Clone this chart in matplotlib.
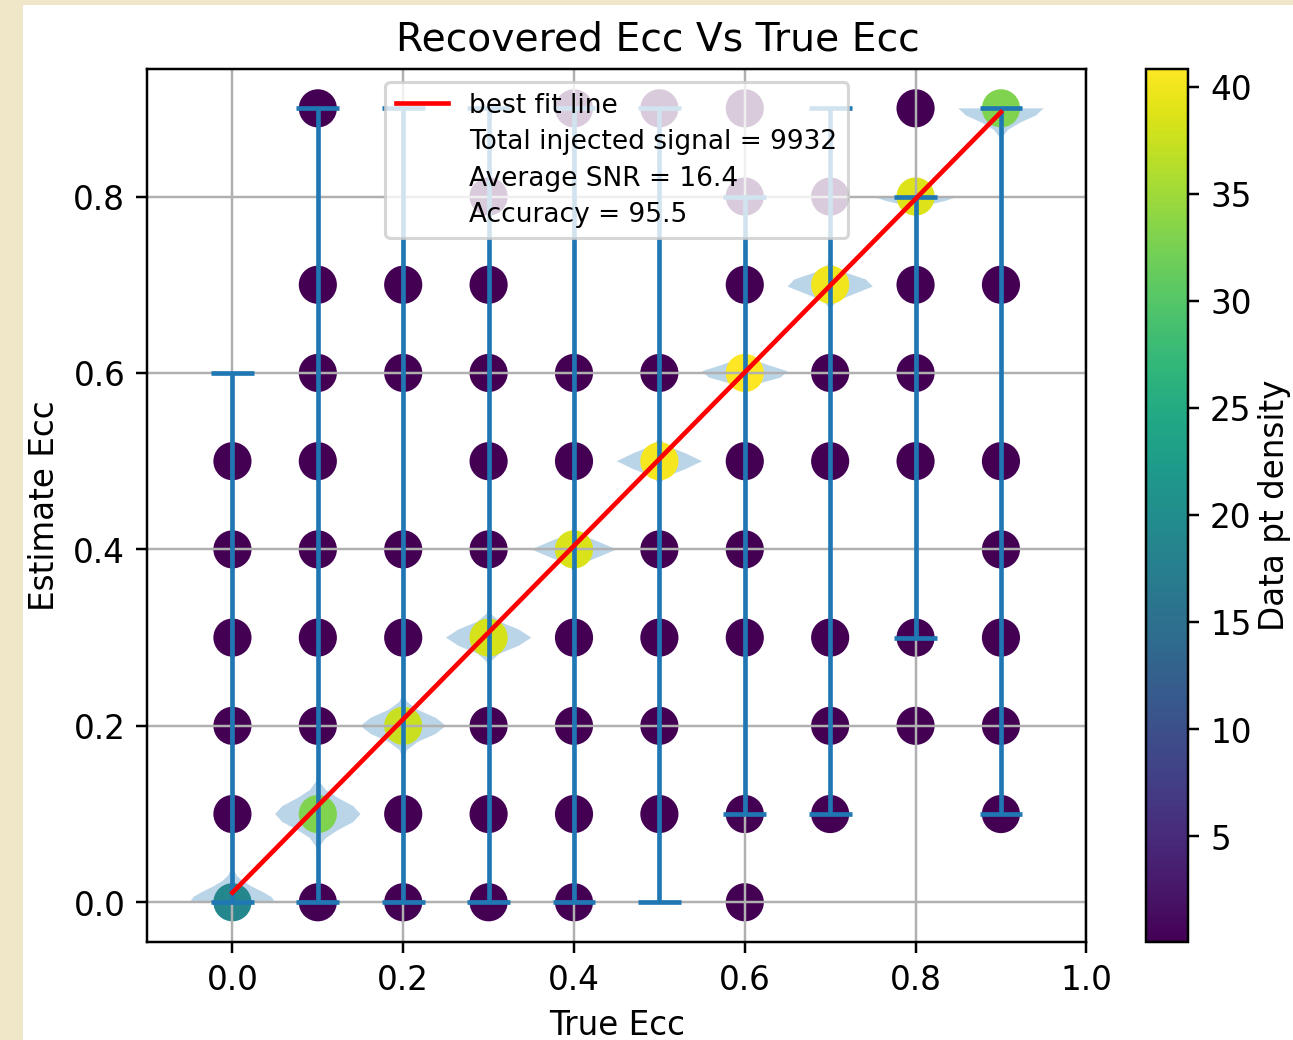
import matplotlib
matplotlib.use('Agg')
import matplotlib.pyplot as plt
from matplotlib.patches import Rectangle
import numpy as np

plt.rcParams['font.size'] = 10.55

# eccentricity grid used for both the injected and the recovered values
ecc_grid = np.round(np.arange(0.0, 1.0, 0.1), 1)

# point density per cell: rows = estimated ecc (0.0 .. 0.9), cols = true ecc (0.0 .. 0.9)
# 0 means no recovered point in that cell
p = 0.06
density = np.array([
    [19.0, p,    p,    p,    p,    0,    p,     0,    0,    0],
    [p,    33.0, p,    p,    p,    p,    p,     p,    0,    p],
    [p,    p,    37.5, p,    p,    p,    0,     p,    p,    p],
    [p,    p,    p,    38.3, p,    p,    p,     p,    p,    p],
    [p,    p,    p,    p,    38.5, p,    p,     0,    0,    p],
    [p,    p,    0,    p,    p,    40.3, p,     p,    p,    p],
    [0,    p,    p,    p,    p,    p,    40.85, p,    p,    0],
    [0,    p,    p,    p,    0,    0,    p,     40.0, p,    p],
    [0,    0,    0,    p,    0,    0,    p,     p,    38.7, 0],
    [0,    p,    0,    0,    p,    p,    p,     0,    p,    33.0],
])

fit_slope = 0.983
fit_intercept = 0.011
n_injected = 9932
avg_snr = 16.4
accuracy = 95.5

DPI = 223
W, H = 1293, 1040
fig = plt.figure(figsize=((W + 0.4) / DPI, (H + 0.4) / DPI), dpi=DPI)
fig.patch.set_facecolor('#efe7c8')
fig.add_artist(Rectangle((23 / W, 0), 1, 1035 / H, transform=fig.transFigure,
                         facecolor='white', edgecolor='none', zorder=-1))

ax = fig.add_axes([147 / W, 98 / H, 939 / W, 873 / H])
cax = fig.add_axes([1146 / W, 98 / H, 42 / W, 873 / H])

# violins: one per recovered value, built from the number of points in each cell
counts = np.rint(density / density[density > 0].min()).astype(int)
datasets = [np.repeat(ecc_grid, counts[i]) for i in range(len(ecc_grid))]
ax.violinplot(datasets, positions=ecc_grid, widths=0.1)

est_idx, true_idx = np.nonzero(density)
sc = ax.scatter(ecc_grid[true_idx], ecc_grid[est_idx], c=density[est_idx, true_idx],
                cmap='viridis', s=128)

ax.plot(ecc_grid, fit_slope * ecc_grid + fit_intercept, color='red', label='best fit line')
ax.plot([], [], ' ', label='Total injected signal = %d' % n_injected)
ax.plot([], [], ' ', label='Average SNR = %.1f' % avg_snr)
ax.plot([], [], ' ', label='Accuracy = %.1f' % accuracy)

ax.set_xlabel('True Ecc')
ax.set_ylabel('Estimate Ecc')
ax.grid(True)
ax.legend(loc='upper center', fontsize=8.5, labelspacing=0.4)

cbar = fig.colorbar(sc, cax=cax)
cbar.set_label('Data pt density', labelpad=2)
fig.suptitle('Recovered Ecc Vs True Ecc', x=658 / W, y=0.98, fontsize=12.7)

fig.savefig('out.png', dpi=DPI, facecolor=fig.get_facecolor())
